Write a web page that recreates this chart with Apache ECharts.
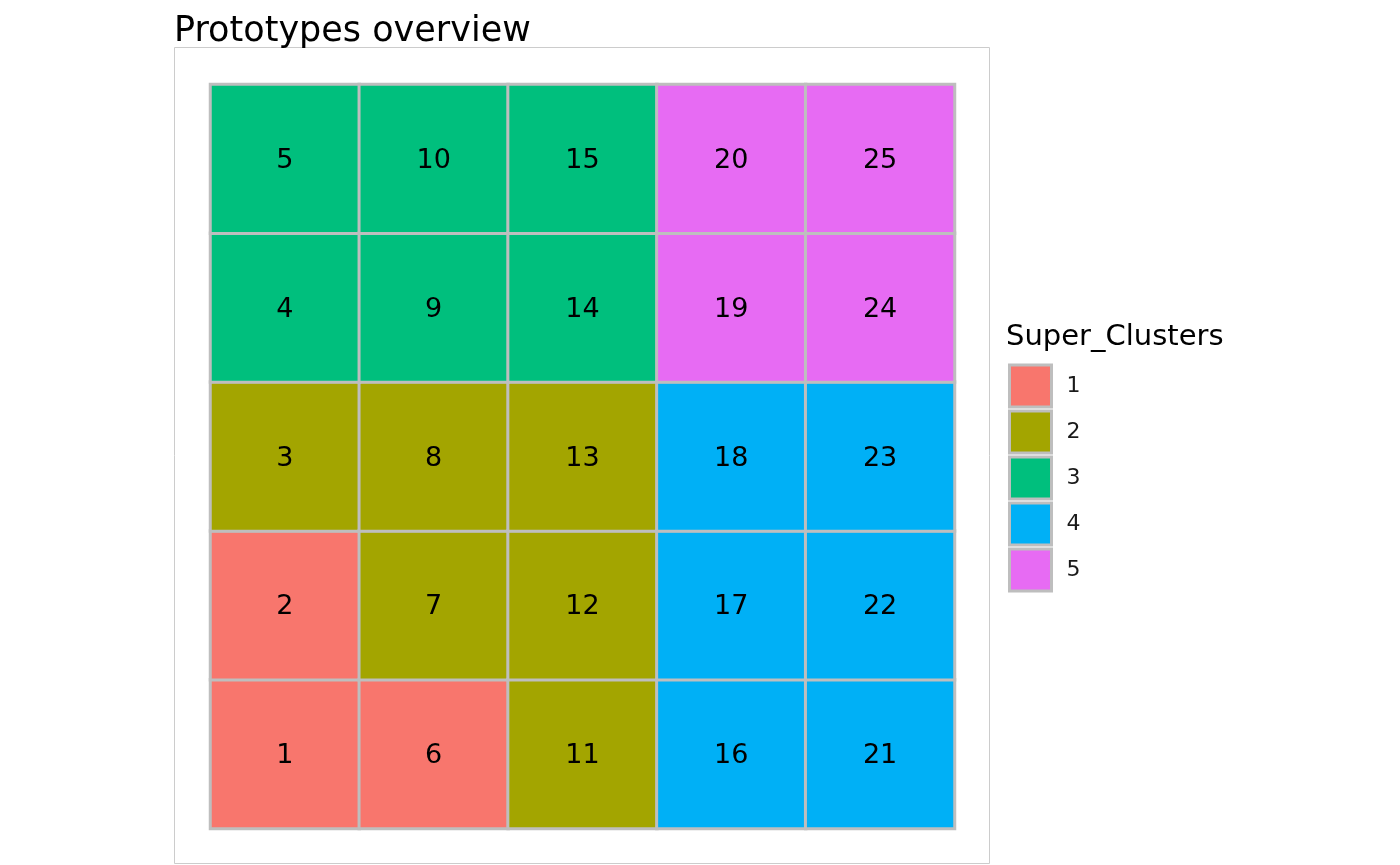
<!DOCTYPE html>
<html>
<head>
<meta charset="utf-8">
<script src="https://cdn.jsdelivr.net/npm/echarts@6/dist/echarts.min.js"></script>
<style>
html,body{margin:0;padding:0;background:#fff;}
#chart{width:1400px;height:865px;}
</style>
</head>
<body>
<div id="chart"></div>
<script>
// ---- data ----
const gridCols = ['1', '2', '3', '4', '5'];
const gridRows = ['1', '2', '3', '4', '5'];
const prototypes = [1, 2, 3, 4, 5, 6, 7, 8, 9, 10, 11, 12, 13, 14, 15, 16, 17, 18, 19, 20, 21, 22, 23, 24, 25];
const protoCol = [1, 1, 1, 1, 1, 2, 2, 2, 2, 2, 3, 3, 3, 3, 3, 4, 4, 4, 4, 4, 5, 5, 5, 5, 5];
const protoRow = [1, 2, 3, 4, 5, 1, 2, 3, 4, 5, 1, 2, 3, 4, 5, 1, 2, 3, 4, 5, 1, 2, 3, 4, 5];
const superClusters = [1, 1, 2, 3, 3, 1, 2, 2, 3, 3, 2, 2, 2, 3, 3, 4, 4, 4, 5, 5, 4, 4, 4, 5, 5];
const clusterNames = ['1', '2', '3', '4', '5'];
const clusterColors = ['#F8766D', '#A3A500', '#00BF7D', '#00B0F6', '#E76BF3'];
const chartTitle = 'Prototypes overview';
const legendTitle = 'Super_Clusters';

const FONT = 'DejaVu Sans';
const chart = echarts.init(document.getElementById('chart'), null, {renderer: 'canvas'});

const series = clusterNames.map((name, ci) => {
  const data = [];
  prototypes.forEach((p, i) => {
    if (String(superClusters[i]) === name) {
      data.push([protoCol[i] - 1, protoRow[i] - 1, p]);
    }
  });
  return {
    name: name,
    type: 'heatmap',
    data: data,
    itemStyle: {color: clusterColors[ci], borderColor: '#bebebe', borderWidth: 3},
    label: {
      show: true,
      formatter: p => String(p.value[2]),
      fontFamily: FONT,
      fontSize: 27,
      color: '#000',
      offset: [0, 2]
    },
    emphasis: {disabled: true}
  };
});

chart.setOption({
  animation: false,
  backgroundColor: '#fff',
  textStyle: {fontFamily: FONT},
  title: [
    {text: chartTitle, left: 174, top: 14, padding: 0,
     textStyle: {fontFamily: FONT, fontSize: 35, fontWeight: 'normal', color: '#000'}},
    {text: legendTitle, left: 1006, top: 323, padding: 0,
     textStyle: {fontFamily: FONT, fontSize: 29, fontWeight: 'normal', color: '#000'}}
  ],
  grid: {left: 210.5, top: 84.5, width: 744, height: 744, containLabel: false},
  xAxis: {type: 'category', data: gridCols, show: false},
  yAxis: {type: 'category', data: gridRows, show: false},
  legend: {
    data: clusterNames,
    orient: 'vertical',
    left: 1008,
    top: 363.5,
    padding: 0,
    icon: 'rect',
    itemWidth: 42,
    itemHeight: 42,
    itemGap: 1,
    selectedMode: false,
    itemStyle: {borderColor: '#bebebe', borderWidth: 3},
    textStyle: {fontFamily: FONT, fontSize: 22, color: '#1a1a1a', padding: [0, 0, 0, 10]}
  },
  graphic: [{
    type: 'rect',
    shape: {x: 174.5, y: 47.5, width: 815, height: 816},
    style: {fill: 'none', stroke: '#cccccc', lineWidth: 1},
    silent: true,
    z: -1
  }],
  series: series
});
</script>
</body>
</html>
